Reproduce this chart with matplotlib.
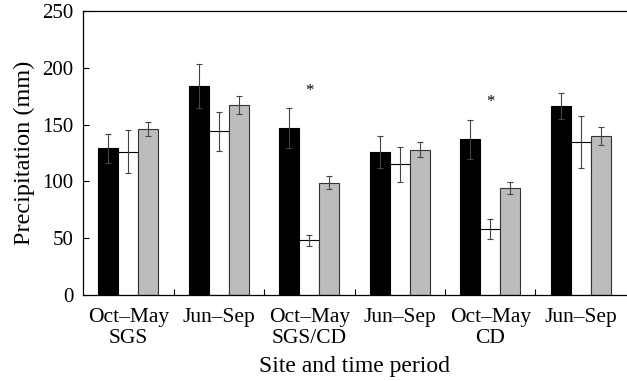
import matplotlib.pyplot as plt
import numpy as np

plt.rcParams['font.family'] = ['Liberation Serif', 'DejaVu Serif']

labels = ['Oct\u2013May\nSGS', 'Jun\u2013Sep', 'Oct\u2013May\nSGS/CD', 'Jun\u2013Sep', 'Oct\u2013May\nCD', 'Jun\u2013Sep']

black_vals = [129, 184, 147, 126, 137, 166]
black_err = [13, 19, 17.5, 14, 17, 11.5]
white_vals = [126, 144, 48, 115, 58, 135]
white_err = [19, 17, 4.5, 15.5, 8.5, 23]
grey_vals = [146, 167.5, 99, 128, 94, 140]
grey_err = [6, 8, 6, 6.5, 5.5, 8]

star_groups = [2, 4]
star_vals = [180, 170]

fig = plt.figure(figsize=(6.27, 3.81), dpi=100)
ax = fig.add_axes([0.1324, 0.2257, 0.866, 0.7454])

x = np.arange(len(labels))
w = 0.22
ekw = dict(ecolor='#444444', elinewidth=0.8, capsize=2, capthick=0.8)

ax.bar(x - w, black_vals, w, color='black', edgecolor='black', linewidth=0.8,
       yerr=black_err, error_kw=ekw)
ax.bar(x, white_vals, w, color='white', edgecolor='black', linewidth=0.8,
       yerr=white_err, error_kw=ekw)
ax.bar(x + w, grey_vals, w, color='#bcbcbc', edgecolor='#333333', linewidth=0.8,
       yerr=grey_err, error_kw=ekw)

for g, v in zip(star_groups, star_vals):
    ax.text(x[g], v, '*', ha='center', va='center', fontsize=12)

ax.set_xlim(-0.5, len(labels) - 0.5)
ax.set_ylim(0, 250)
ax.set_yticks([0, 50, 100, 150, 200, 250])
ax.set_xticks(x)
ax.set_xticklabels(labels, fontsize=15.5, linespacing=1.15)
ax.set_xticks(np.arange(0.5, len(labels) - 0.5), minor=True)
ax.tick_params(axis='x', which='major', length=0, pad=9)
ax.tick_params(axis='x', which='minor', direction='in', length=4, width=0.8)
ax.tick_params(axis='y', direction='in', length=4, width=0.8, labelsize=15, pad=7)

ax.spines['right'].set_visible(False)
for s in ['left', 'top', 'bottom']:
    ax.spines[s].set_linewidth(0.9)

ax.set_ylabel('Precipitation (mm)', fontsize=17.5, labelpad=5)
ax.set_xlabel('Site and time period', fontsize=17, labelpad=6)

fig.savefig('out.png', dpi=100)
